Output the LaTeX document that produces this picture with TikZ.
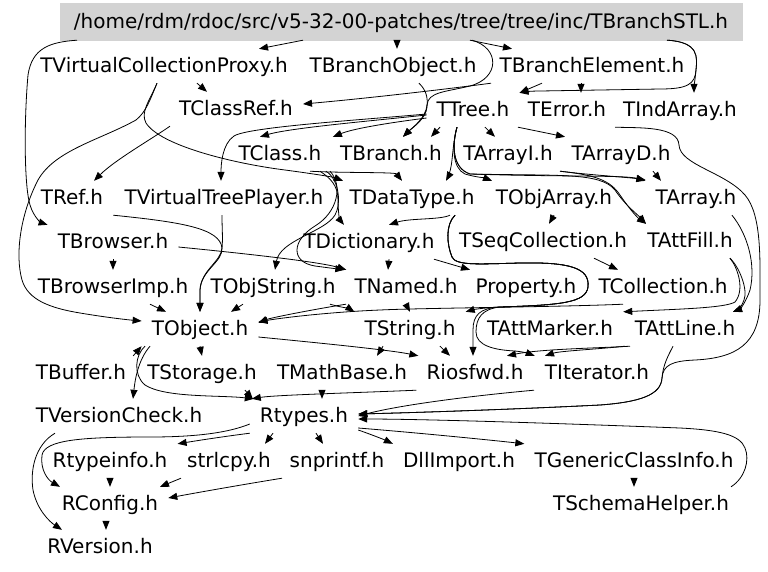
\documentclass[tikz,border=0pt]{standalone}
\usepackage{fontspec}
\usetikzlibrary{arrows.meta}
\newfontfamily\dejavu{DejaVu Sans}
\definecolor{rootgray}{RGB}{211,211,211}
\begin{document}
\begin{tikzpicture}[x=1pt,y=-1pt,
  hdr/.style={font={\dejavu\fontsize{20}{24}\selectfont}, inner xsep=10pt, inner ysep=0pt,
              minimum height=34pt, text height=15pt, text depth=2pt},
  rootbox/.style={hdr, fill=rootgray, draw=rootgray, minimum width=682pt, minimum height=37pt},
  e/.style={draw=black, line width=0.8pt, -{Triangle[length=9pt,width=7pt]}}]
\useasboundingbox (0,0) rectangle (768,571);

% header nodes
\node[rootbox] (root) at (401,21.5) {/home/rdm/rdoc/src/v5-32-00-patches/tree/tree/inc/TBranchSTL.h};
\node[hdr] (vcp)   at (164,66)  {TVirtualCollectionProxy.h};
\node[hdr] (bobj)  at (393,66)  {TBranchObject.h};
\node[hdr] (belem) at (592,66)  {TBranchElement.h};
\node[hdr] (cref)  at (236,109) {TClassRef.h};
\node[hdr] (tree)  at (473,110) {TTree.h};
\node[hdr] (err)   at (567,110) {TError.h};
\node[hdr] (ind)   at (680,110) {TIndArray.h};
\node[hdr] (cls)   at (280,154) {TClass.h};
\node[hdr] (br)    at (391,154) {TBranch.h};
\node[hdr] (ai)    at (508,154) {TArrayI.h};
\node[hdr] (ad)    at (621,154) {TArrayD.h};
\node[hdr] (ref)   at (72,198)  {TRef.h};
\node[hdr] (vtp)   at (224,198) {TVirtualTreePlayer.h};
\node[hdr] (dt)    at (412,198) {TDataType.h};
\node[hdr] (oa)    at (554,198) {TObjArray.h};
\node[hdr] (arr)   at (696,198) {TArray.h};
\node[hdr] (brw)   at (113,242) {TBrowser.h};
\node[hdr] (dict)  at (369,242) {TDictionary.h};
\node[hdr] (seq)   at (543,241) {TSeqCollection.h};
\node[hdr] (fill)  at (690,241) {TAttFill.h};
\node[hdr] (bimp)  at (113,287) {TBrowserImp.h};
\node[hdr] (ostr)  at (273,287) {TObjString.h};
\node[hdr] (nmd)   at (406,287) {TNamed.h};
\node[hdr] (prop)  at (526,287) {Property.h};
\node[hdr] (coll)  at (663,287) {TCollection.h};
\node[hdr] (obj)   at (200,329) {TObject.h};
\node[hdr] (str)   at (410,329) {TString.h};
\node[hdr] (mark)  at (550,329) {TAttMarker.h};
\node[hdr] (line)  at (685,329) {TAttLine.h};
\node[hdr] (buf)   at (81,373)  {TBuffer.h};
\node[hdr] (stor)  at (202,373) {TStorage.h};
\node[hdr] (math)  at (342,373) {TMathBase.h};
\node[hdr] (rios)  at (475,373) {Riosfwd.h};
\node[hdr] (iter)  at (597,373) {TIterator.h};
\node[hdr] (vchk)  at (119,416) {TVersionCheck.h};
\node[hdr] (rt)    at (304,416) {Rtypes.h};
\node[hdr] (rti)   at (110,461) {Rtypeinfo.h};
\node[hdr] (strl)  at (229,461) {strlcpy.h};
\node[hdr] (snp)   at (337,461) {snprintf.h};
\node[hdr] (dll)   at (459,461) {DllImport.h};
\node[hdr] (gci)   at (634,461) {TGenericClassInfo.h};
\node[hdr] (rcfg)  at (110,504) {RConfig.h};
\node[hdr] (sch)   at (641,504) {TSchemaHelper.h};
\node[hdr] (rver)  at (100,547) {RVersion.h};

% includes of the top level header
\draw[e] ([xshift=-98pt]root.south) -- ([xshift=95pt]vcp.north);
\draw[e] ([xshift=-4pt]root.south) -- ([xshift=4pt]bobj.north);
\draw[e] ([xshift=69pt]root.south) -- ([xshift=-80pt]belem.north);
\draw[e] ([xshift=266pt]root.south) .. controls (700,42) and (697,58) .. (696,70) .. controls (695,80) and (694,87) .. ([xshift=14pt]ind.north);
\draw[e] ([xshift=266pt]root.south) .. controls (700,42) and (697,58) .. (696,70) .. controls (695,84) and (688,89) .. (660,89) -- (540,91) .. controls (530,91) and (524,92) .. (tree.north east);
\draw[e] ([xshift=71pt]root.south) .. controls (500,48) and (500,78) .. (470,86) .. controls (445,92) and (428,92) .. (427,105) .. controls (426,118) and (412,128) .. ([xshift=12pt]br.north);
\draw[e] ([xshift=-324pt]root.south) .. controls (50,42) and (32,48) .. (28,75) .. controls (24,120) and (24,185) .. (30,205) .. controls (34,218) and (42,223) .. (brw.north west);

% second level
\draw[e] ([xshift=-50pt]belem.south) -- (tree.north east);
\draw[e] ([xshift=-11pt]belem.south) -- ([xshift=14pt]err.north);
\draw[e] ([xshift=-101pt]belem.south) .. controls (440,90) and (360,99) .. ([yshift=5pt]cref.east);
\draw[e] ([xshift=33pt]vcp.south) -- ([xshift=-29pt]cref.north);
\draw[e] ([xshift=26pt]bobj.south) .. controls (426,90) and (428,97) .. (427,107) .. controls (426,119) and (412,128) .. ([xshift=12pt]br.north);
\draw[e] ([xshift=-7pt]vcp.south) .. controls (150,100) and (146,112) .. (136,120) .. controls (100,140) and (55,150) .. (38,180) .. controls (20,215) and (15,255) .. (22,280) .. controls (28,300) and (50,308) .. (80,313) .. controls (110,318) and (130,320) .. ([yshift=8pt]obj.west);
\draw[e] ([xshift=-7pt]vcp.south) .. controls (150,100) and (140,112) .. (146,123) .. controls (160,145) and (230,163) .. (285,170) .. controls (315,174) and (333,177) .. ([xshift=-69pt]dt.north);

% TTree.h
\draw[e] ([xshift=-33pt]tree.south) -- ([xshift=40pt]br.north);
\draw[e] ([yshift=-5pt]tree.west) .. controls (370,121) and (290,128) .. ([xshift=-20pt]cls.north);
\draw[e] ([yshift=-8pt]tree.west) .. controls (395,122) and (355,128) .. ([xshift=3pt]br.north west);
\draw[e] ([yshift=-4pt]tree.west) .. controls (360,120) and (248,127) .. (234,136) .. controls (222,144) and (221,165) .. ([xshift=-3pt]vtp.north);
\draw[e] ([xshift=12pt]tree.south) -- ([xshift=-13pt]ai.north);
\draw[e] ([xshift=45pt]tree.south) -- ([xshift=-56pt]ad.north);
\draw[e] ([xshift=-16pt]tree.south) .. controls (452,145) and (453,165) .. (449,174) .. controls (448,177) and (447,179) .. ([xshift=34pt]dt.north);
\draw[e] ([xshift=-16pt]tree.south) .. controls (452,145) and (452,168) .. (465,174) .. controls (475,177) and (485,178) .. ([xshift=-62pt]oa.north);
\draw[e] ([xshift=-16pt]tree.south) .. controls (452,145) and (452,168) .. (470,174) .. controls (560,177) and (625,175) .. (arr.north west);
\draw[e] ([xshift=-16pt]tree.south) .. controls (452,145) and (452,168) .. (470,174) .. controls (560,176) and (600,172) .. (615,190) .. controls (625,205) and (638,215) .. ([xshift=-44pt]fill.north);
\draw[e] ([xshift=-66pt]cref.south) .. controls (150,140) and (115,160) .. ([xshift=22pt]ref.north);

% arrays and attributes
\draw[e] ([xshift=32pt]ad.south) -- ([xshift=-35pt]arr.north);
\draw[e] ([xshift=52pt]ai.south) .. controls (590,175) and (625,177) .. ([yshift=1pt]arr.north west);
\draw[e] ([xshift=52pt]ai.south) .. controls (595,175) and (610,180) .. (620,195) .. controls (630,210) and (638,218) .. ([xshift=-44pt]fill.north);
\draw[e] ([xshift=40pt]fill.south) .. controls (740,268) and (748,290) .. (744,300) .. controls (742,306) and (738,310) .. ([xshift=48pt]line.north);
\draw[e] ([xshift=36pt]arr.south) .. controls (748,235) and (756,265) .. (750,290) .. controls (746,302) and (740,309) .. ([xshift=48pt]line.north);
\draw[e] ([xshift=40pt]fill.south) .. controls (738,268) and (745,290) .. (735,302) .. controls (725,308) and (680,309) .. (mark.north east);

% class and dictionary
\draw[e] ([xshift=30pt]cls.south) .. controls (340,173) and (395,172) .. ([xshift=-10pt]dt.north);
\draw[e] ([xshift=40pt]cls.south) .. controls (330,178) and (338,185) .. (338,200) .. controls (338,212) and (340,220) .. ([xshift=-25pt]dict.north);
\draw[e] ([xshift=46pt]cls.south) .. controls (340,180) and (341,205) .. (335,215) .. controls (325,232) and (280,240) .. ([xshift=2pt]ostr.north);
\draw[e] ([xshift=50pt]cls.south) .. controls (343,185) and (338,212) .. (315,226) .. controls (292,240) and (290,262) .. (315,266) .. controls (330,268) and (338,269) .. (nmd.north west);
\draw[e] ([xshift=38pt]dt.south) .. controls (440,220) and (410,218) .. ([xshift=20pt]dict.north);
\draw[e] ([xshift=43pt]dt.south) .. controls (445,225) and (447,245) .. (452,257) .. controls (456,266) and (480,264) .. (520,263) .. controls (570,262) and (590,268) .. (588,287) .. controls (586,303) and (560,305) .. (500,307) .. controls (480,308) and (472,310) .. (str.north east);
\draw[e] ([xshift=43pt]dt.south) .. controls (445,225) and (447,245) .. (452,257) .. controls (456,266) and (480,264) .. (520,263) .. controls (570,262) and (590,268) .. (588,287) .. controls (586,303) and (560,305) .. (500,307) .. controls (480,308) and (473,315) .. (473,330) .. controls (473,342) and (473,350) .. ([xshift=-2pt]rios.north);
\draw[e] ([xshift=43pt]dt.south) .. controls (445,225) and (447,245) .. (452,257) .. controls (456,266) and (480,264) .. (520,263) .. controls (570,262) and (590,268) .. (588,287) .. controls (586,303) and (560,305) .. (500,307) .. controls (482,309) and (476,318) .. (476,332) .. controls (476,346) and (495,350) .. (515,351) .. controls (525,352) and (530,354) .. (iter.north west);
\draw[e] ([xshift=20pt]dict.south) -- ([xshift=-18pt]nmd.north);
\draw[e] ([xshift=65pt]dict.south) -- ([xshift=-56pt]prop.north);
\draw[e] (oa.south) -- ([xshift=6pt]seq.north);
\draw[e] ([xshift=51pt]seq.south) -- ([xshift=-45pt]coll.north);

% browser
\draw[e] (brw.south) -- (bimp.north);
\draw[e] ([yshift=-5pt]brw.east) .. controls (250,254) and (320,262) .. ([xshift=2pt]nmd.north west);

% into TObject.h
\draw[e] (ref.south east) .. controls (180,222) and (220,228) .. (222,248) .. controls (223,262) and (201,270) .. (200,290) -- (obj.north);
\draw[e] ([xshift=-2pt]vtp.south) .. controls (222,230) and (223,238) .. (222,248) .. controls (221,262) and (201,270) .. (200,290) -- (obj.north);
\draw[e] ([xshift=37pt]bimp.south) -- ([xshift=-34pt]obj.north);
\draw[e] ([xshift=-30pt]ostr.south) -- ([xshift=31pt]obj.north);
\draw[e] ([xshift=-60pt]nmd.south) .. controls (310,310) and (270,318) .. ([yshift=6pt]obj.east);
\draw[e] ([xshift=-40pt]coll.south) .. controls (560,307) and (420,308) .. (380,310) .. controls (330,312) and (280,318) .. ([yshift=7pt]obj.east);
\draw[e] ([xshift=-3pt]buf.north east) -- (obj.south west);

% TString.h and neighbours
\draw[e] (nmd.south) -- (str.north);
\draw[e] ([xshift=57pt]ostr.south) .. controls (340,307) and (350,309) .. (str.north west);
\draw[e] ([xshift=-27pt]str.south) -- ([xshift=35pt]math.north);
\draw[e] ([xshift=30pt]str.south) -- ([xshift=-25pt]rios.north);
\draw[e] ([xshift=-55pt]line.south) .. controls (600,348) and (540,349) .. ([xshift=32pt]rios.north);
\draw[e] ([xshift=-60pt]line.south) .. controls (600,349) and (560,351) .. ([xshift=-52pt]iter.north);

% out of TObject.h
\draw[e] (obj.south) -- (stor.north);
\draw[e] ([xshift=-50pt]obj.south) .. controls (138,360) and (135,380) .. ([xshift=14pt]vchk.north);
\draw[e] ([yshift=-8pt]obj.east) .. controls (320,343) and (390,350) .. ([xshift=2pt]rios.north west);
\draw[e] ([xshift=-55pt]obj.south) .. controls (135,355) and (133,375) .. (145,385) .. controls (165,398) and (220,395) .. ([xshift=4pt]rt.north west);

% into Rtypes.h
\draw[e] ([xshift=43pt]stor.south) -- ([xshift=3pt]rt.north west);
\draw[e] ([xshift=-20pt]math.south) -- ([xshift=18pt]rt.north);
\draw[e] (rios.south west) .. controls (350,393) and (275,395) .. ([xshift=2pt]rt.north west);
\draw[e] ([xshift=-63pt]iter.south) .. controls (470,396) and (400,405) .. (rt.east);
\draw[e] ([xshift=-65pt]ind.south) .. controls (640,128) and (678,126) .. (679,145) .. controls (680,165) and (725,172) .. (745,195) .. controls (762,215) and (760,260) .. (760,300) .. controls (760,345) and (735,358) .. (695,360) .. controls (672,361) and (663,365) .. (662,378) .. controls (661,395) and (640,402) .. (600,405) .. controls (500,410) and (400,413) .. ([yshift=2pt]rt.east);
\draw[e] ([xshift=-12pt]line.south) .. controls (668,356) and (663,365) .. (662,378) .. controls (661,395) and (640,402) .. (600,405) .. controls (500,410) and (400,413) .. ([yshift=2pt]rt.east);
\draw[e] ([xshift=90pt]sch.north) .. controls (745,478) and (750,460) .. (745,448) .. controls (740,435) and (720,430) .. (680,428) .. controls (550,423) and (420,419) .. ([yshift=-3pt]rt.east);

% out of Rtypes.h
\draw[e] (rt.south west) .. controls (220,437) and (195,441) .. (rti.north east);
\draw[e] ([xshift=-31pt]rt.south) -- ([xshift=36pt]strl.north);
\draw[e] ([xshift=12pt]rt.south) -- ([xshift=-14pt]snp.north);
\draw[e] ([yshift=-14pt]rt.east) .. controls (370,434) and (385,440) .. (dll.north west);
\draw[e] ([yshift=-12pt]rt.east) .. controls (420,433) and (490,440) .. (gci.north west);
\draw[e] ([yshift=-8pt]rt.west) .. controls (230,432) and (200,437) .. (150,437) .. controls (80,437) and (45,440) .. (42,455) .. controls (40,470) and (48,480) .. ([xshift=-50pt]rcfg.north);
\draw[e] (gci.south) -- ([xshift=-7pt]sch.north);

% configuration headers
\draw[e] ([xshift=-64pt]vchk.south) .. controls (35,445) and (30,470) .. (33,490) .. controls (37,510) and (50,522) .. ([xshift=-38pt]rver.north);
\draw[e] (rti.south) -- (rcfg.north);
\draw[e] ([xshift=-48pt]strl.south) -- ([xshift=50pt]rcfg.north);
\draw[e] ([xshift=-55pt]snp.south) .. controls (240,485) and (195,493) .. ([yshift=6pt]rcfg.east);
\draw[e] ([xshift=-4pt]rcfg.south) -- ([xshift=6pt]rver.north);
\end{tikzpicture}
\end{document}
